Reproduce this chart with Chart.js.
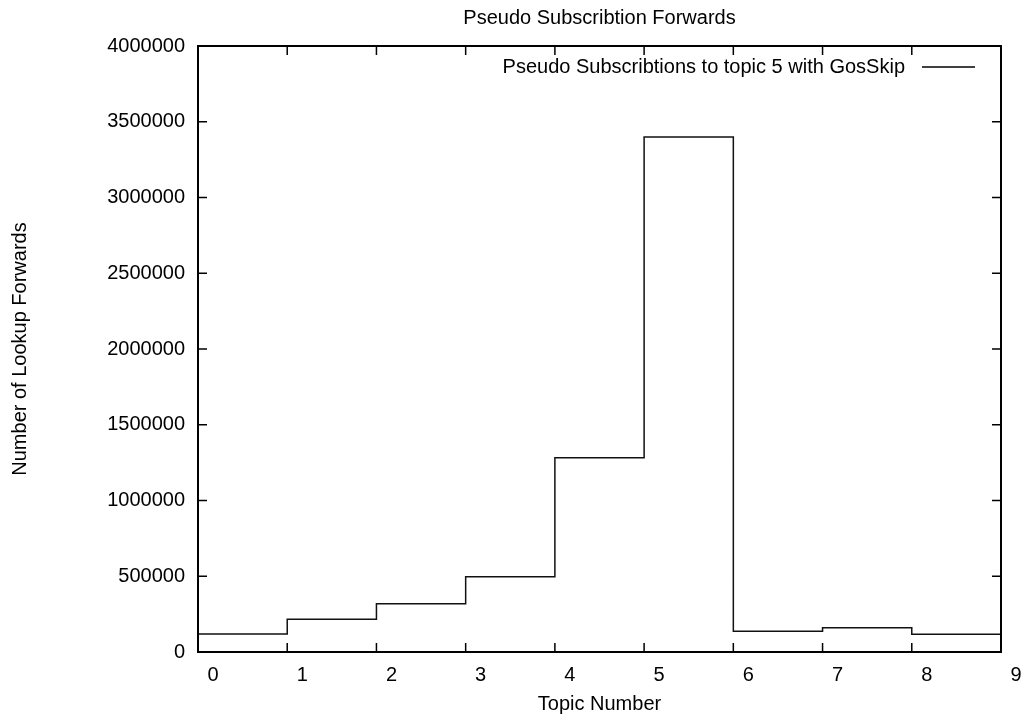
<!DOCTYPE html>
<html>
<head>
<meta charset="utf-8">
<title>Pseudo Subscribtion Forwards</title>
<script src="https://cdn.jsdelivr.net/npm/chart.js@4.4.1/dist/chart.umd.min.js"></script>
<style>
    html, body { margin: 0; padding: 0; background: #fff; }
    #wrap { width: 1024px; height: 716px; position: relative; }
</style>
</head>
<body>
<div id="wrap"><canvas id="myChart"></canvas></div>
<script>
// topic number on x, forwards counted for each topic (last value repeated so the step reaches 9)
const topics = [0, 1, 2, 3, 4, 5, 6, 7, 8, 9];
const forwards = [119000, 216000, 319000, 497000, 1283000, 3400000, 137000, 160000, 117000, 117000];
const yTicks = [0, 500000, 1000000, 1500000, 2000000, 2500000, 3000000, 3500000, 4000000];
const xTicks = [0, 1, 2, 3, 4, 5, 6, 7, 8, 9];

const chartTitle = 'Pseudo Subscribtion Forwards';
const seriesName = 'Pseudo Subscribtions to topic 5 with GosSkip';
const FONT = '"Liberation Sans", Arial, sans-serif';

// gnuplot style frame: border, inward ticks, title and legend inside the plot
const gnuplotFrame = {
    id: 'gnuplotFrame',
    afterDraw(chart) {
        const ctx = chart.ctx;
        const a = chart.chartArea;
        const xs = chart.scales.x, ys = chart.scales.y;
        const tick = 9;
        ctx.save();
        ctx.strokeStyle = '#000';
        ctx.lineWidth = 1.5;
        ctx.beginPath();
        xTicks.forEach(v => {
            const px = xs.getPixelForValue(v);
            ctx.moveTo(px, a.bottom); ctx.lineTo(px, a.bottom - tick);
            ctx.moveTo(px, a.top); ctx.lineTo(px, a.top + tick);
        });
        yTicks.forEach(v => {
            const py = ys.getPixelForValue(v);
            ctx.moveTo(a.left, py); ctx.lineTo(a.left + tick, py);
            ctx.moveTo(a.right, py); ctx.lineTo(a.right - tick, py);
        });
        ctx.stroke();
        ctx.lineWidth = 2;
        ctx.strokeRect(a.left, a.top, a.right - a.left, a.bottom - a.top);

        ctx.fillStyle = '#000';
        ctx.font = '20px ' + FONT;
        ctx.textBaseline = 'middle';
        ctx.textAlign = 'center';
        ctx.fillText(chartTitle, (a.left + a.right) / 2, 18);

        // legend
        const ly = a.top + 21;
        ctx.textAlign = 'right';
        ctx.fillText(seriesName, a.right - 96, ly);
        ctx.lineWidth = 1.5;
        ctx.beginPath();
        ctx.moveTo(a.right - 79, ly);
        ctx.lineTo(a.right - 26, ly);
        ctx.stroke();
        ctx.restore();
    }
};

const ctx = document.getElementById('myChart').getContext('2d');
const myChart = new Chart(ctx, {
    type: 'line',
    data: {
        datasets: [{
            label: seriesName,
            data: topics.map((t, i) => ({x: t, y: forwards[i]})),
            stepped: true,
            borderColor: '#111',
            borderWidth: 1.5,
            pointRadius: 0,
            fill: false
        }]
    },
    options: {
        responsive: true,
        maintainAspectRatio: false,
        animation: false,
        layout: { padding: { top: 46, right: 23, left: 0, bottom: 0 } },
        plugins: {
            legend: { display: false },
            title: { display: false },
            tooltip: { enabled: false }
        },
        scales: {
            x: {
                type: 'linear',
                min: 0,
                max: 9,
                afterFit: s => { s.height = 64; },
                afterBuildTicks: s => { s.ticks = xTicks.map(v => ({value: v})); },
                grid: { display: false, drawTicks: false },
                border: { display: false },
                ticks: {
                    color: '#000',
                    font: { family: FONT, size: 20 },
                    padding: 11,
                    labelOffset: 15,
                    maxRotation: 0,
                    callback: v => String(v)
                },
                title: {
                    display: true,
                    text: 'Topic Number',
                    color: '#000',
                    font: { family: FONT, size: 20 },
                    padding: { top: 0, bottom: 0 }
                }
            },
            y: {
                min: 0,
                max: 4000000,
                afterFit: s => { s.width = 198; },
                afterBuildTicks: s => { s.ticks = yTicks.map(v => ({value: v})); },
                grid: { display: false, drawTicks: false },
                border: { display: false },
                ticks: {
                    color: '#000',
                    font: { family: FONT, size: 20 },
                    padding: 13,
                    callback: v => String(v)
                },
                title: {
                    display: true,
                    text: 'Number of Lookup Forwards',
                    color: '#000',
                    font: { family: FONT, size: 20 },
                    padding: { top: 8, bottom: 0 }
                }
            }
        }
    },
    plugins: [gnuplotFrame]
});
</script>
</body>
</html>
